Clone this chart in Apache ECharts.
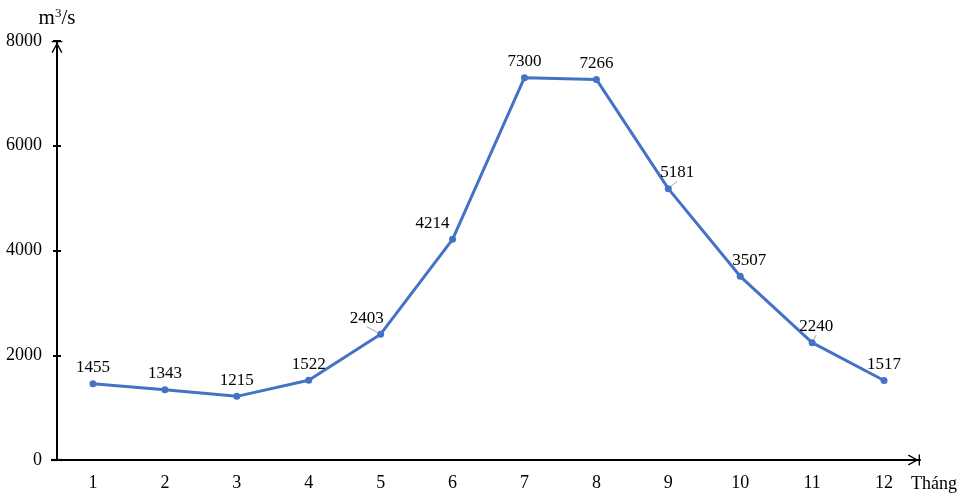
<!DOCTYPE html>
<html>
<head>
<meta charset="utf-8">
<script src="https://cdn.jsdelivr.net/npm/echarts@6/dist/echarts.min.js"></script>
<style>html,body{margin:0;padding:0;background:#fff}#c{width:964px;height:500px}</style>
</head>
<body>
<div id="c"></div>
<script>
const months = ['1','2','3','4','5','6','7','8','9','10','11','12'];
const flow = [1455, 1343, 1215, 1522, 2403, 4214, 7300, 7266, 5181, 3507, 2240, 1517];
const yTicks = [0, 2000, 4000, 6000, 8000];
const labelShift = [0, 0, 0, 0, -14, -20, 0, 0, 9, 9, 4, 0];
const leaderIdx = [4, 8, 10];

const FONT = "'Liberation Serif', 'Times New Roman', serif";
const arrow = 'path://M0,0 L20,0 L20,2.5 L0,2.5 Z M10,2.5 L20,21 L17.8,22.2 L10,7.6 L2.2,22.2 L0,21 Z';
const stub = 'path://M0,0 L4,0 L4,22.2 L0,22.2 Z';

const chart = echarts.init(document.getElementById('c'));
const gridPos = {left: 57, right: 44, top: 41, bottom: 40};

chart.setOption({
  animation: false,
  grid: [Object.assign({}, gridPos), Object.assign({}, gridPos)],
  xAxis: [{
    type: 'category', data: months, gridIndex: 0,
    boundaryGap: true,
    axisLine: {lineStyle: {color: '#000', width: 2}, symbol: [stub, arrow], symbolSize: [11, 12], symbolOffset: [0, -6]},
    axisTick: {alignWithLabel: true, length: 5, lineStyle: {color: '#000', width: 2}},
    axisLabel: {fontFamily: FONT, fontSize: 18, color: '#000', margin: 14},
    name: 'Tháng', nameLocation: 'end', nameGap: -9,
    nameTextStyle: {fontFamily: FONT, fontSize: 18, color: '#000', align: 'left', verticalAlign: 'top', padding: [15, 0, 0, 0]}
  }, {
    type: 'category', data: months, gridIndex: 1, boundaryGap: true,
    axisLine: {show: false},
    axisTick: {alignWithLabel: true, inside: true, length: 4, lineStyle: {color: '#000', width: 2}},
    axisLabel: {show: false}
  }],
  yAxis: [{
    type: 'value', gridIndex: 0, min: 0, max: 8000, interval: 2000,
    axisLine: {show: true, lineStyle: {color: '#000', width: 2}, symbol: ['none', arrow], symbolSize: [11, 12], symbolOffset: [0, -6]},
    axisTick: {show: true, length: 4, lineStyle: {color: '#000', width: 2}},
    splitLine: {show: false},
    axisLabel: {fontFamily: FONT, fontSize: 18, color: '#000', margin: 15,
      formatter: v => yTicks.includes(v) ? String(v) : ''},
    name: 'm{s|3}/s', nameLocation: 'end', nameGap: 12,
    nameTextStyle: {fontFamily: FONT, fontSize: 21, color: '#000', align: 'center',
      rich: {s: {fontFamily: FONT, fontSize: 13, color: '#000', verticalAlign: 'top', padding: [0, 0, 9, 0]}}}
  }, {
    type: 'value', gridIndex: 1, min: 0, max: 8000, interval: 2000,
    axisLine: {show: false},
    axisTick: {show: true, inside: true, length: 4, lineStyle: {color: '#000', width: 2}},
    splitLine: {show: false},
    axisLabel: {show: false}
  }],
  series: [{
    type: 'line', xAxisIndex: 0, yAxisIndex: 0,
    data: flow.map((v, i) => ({
      value: v,
      labelLine: {show: leaderIdx.includes(i), lineStyle: {color: '#a6a6a6', width: 1}}
    })),
    symbol: 'circle', symbolSize: 7,
    lineStyle: {color: '#4472C4', width: 3},
    itemStyle: {color: '#4472C4'},
    label: {show: true, position: 'top', distance: 4, fontFamily: FONT, fontSize: 17, color: '#000'},
    labelLayout: p => ({dx: labelShift[p.dataIndex], dy: 0}),
    labelLine: {show: false}
  }]
});
</script>
</body>
</html>
